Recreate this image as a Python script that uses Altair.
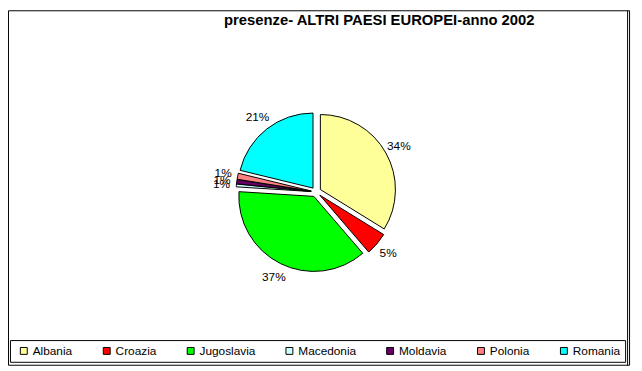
import altair as alt
import pandas as pd

# ---- data ----
countries = ["Albania", "Croazia", "Jugoslavia", "Macedonia", "Moldavia", "Polonia", "Romania"]
shares = [33.8, 4.9, 37.3, 0.6, 0.9, 1.3, 21.2]
colors = ["#FFFF99", "#FF0000", "#00FF00", "#CCFFFF", "#660066", "#FF8080", "#00FFFF"]
title_text = "presenze- ALTRI PAESI EUROPEI-anno 2002"

# ---- layout constants ----
W, H = 634, 362
CX, CY, R, EXPLODE, LABEL_R = 312, 184, 76, 5, 96
FONT = "Liberation Sans"

df = pd.DataFrame({"paese": countries, "quota": shares, "ord": list(range(len(countries)))})

base = (
    alt.Chart(df)
    .transform_joinaggregate(total="sum(quota)")
    .transform_window(cum="sum(quota)", sort=[alt.SortField("ord")], frame=[None, 0])
    .transform_calculate(a0="(datum.cum - datum.quota) / datum.total * 2 * PI")
    .transform_calculate(a1="datum.cum / datum.total * 2 * PI")
    .transform_calculate(mid="(datum.a0 + datum.a1) / 2")
    .transform_calculate(cx=f"{CX} + {EXPLODE} * sin(datum.mid)")
    .transform_calculate(cy=f"{CY} - {EXPLODE} * cos(datum.mid)")
    .transform_calculate(lx=f"{CX} + {LABEL_R} * sin(datum.mid)")
    .transform_calculate(ly=f"{CY} - {LABEL_R} * cos(datum.mid)")
    .transform_calculate(pct="format(datum.quota / datum.total * 100, '.0f') + '%'")
)

arcs = base.mark_arc(radius=R, stroke="black", strokeWidth=1).encode(
    theta=alt.Theta("a0:Q", scale=None),
    theta2="a1:Q",
    x=alt.X("cx:Q", scale=None, axis=None),
    y=alt.Y("cy:Q", scale=None, axis=None),
    color=alt.Color(
        "paese:N",
        scale=alt.Scale(domain=countries, range=colors),
        legend=alt.Legend(
            orient="none",
            legendX=10,
            legendY=339,
            direction="horizontal",
            columns=7,
            title=None,
            symbolType="square",
            symbolSize=49,
            symbolStrokeColor="black",
            symbolStrokeWidth=1,
            symbolOpacity=1,
            labelFont=FONT,
            labelFontSize=12,
            labelColor="black",
            columnPadding=28,
            labelOffset=3,
            padding=0,
        ),
    ),
    order=alt.Order("ord:Q"),
)

labels = base.mark_text(font=FONT, fontSize=12, color="black").encode(
    x=alt.X("lx:Q", scale=None, axis=None),
    y=alt.Y("ly:Q", scale=None, axis=None),
    text="pct:N",
)

one = alt.Data(values=[{}])

outer = alt.Chart(one).mark_rect(fill="white", stroke="black", strokeWidth=1).encode(
    x=alt.value(0.5), x2=alt.value(629.5), y=alt.value(0.5), y2=alt.value(359.5)
)
inner_right = alt.Chart(one).mark_rule(color="black", strokeWidth=1).encode(
    x=alt.value(627.5), y=alt.value(0.5), y2=alt.value(359.5)
)
legend_box = alt.Chart(one).mark_rect(fill="white", stroke="black", strokeWidth=1).encode(
    x=alt.value(2.5), x2=alt.value(625.5), y=alt.value(334.5), y2=alt.value(356.5)
)
title = alt.Chart(one).mark_text(
    text=title_text, font=FONT, fontSize=15, fontWeight="bold",
    align="center", baseline="alphabetic", color="black",
).encode(x=alt.value(376), y=alt.value(15))

chart = (
    alt.layer(outer, inner_right, legend_box, title, arcs, labels)
    .properties(width=W, height=H, autosize="none", padding=0, background="white")
    .configure_view(stroke=None)
)

chart.save("out.html", embed_options={"renderer": "svg", "actions": False})
